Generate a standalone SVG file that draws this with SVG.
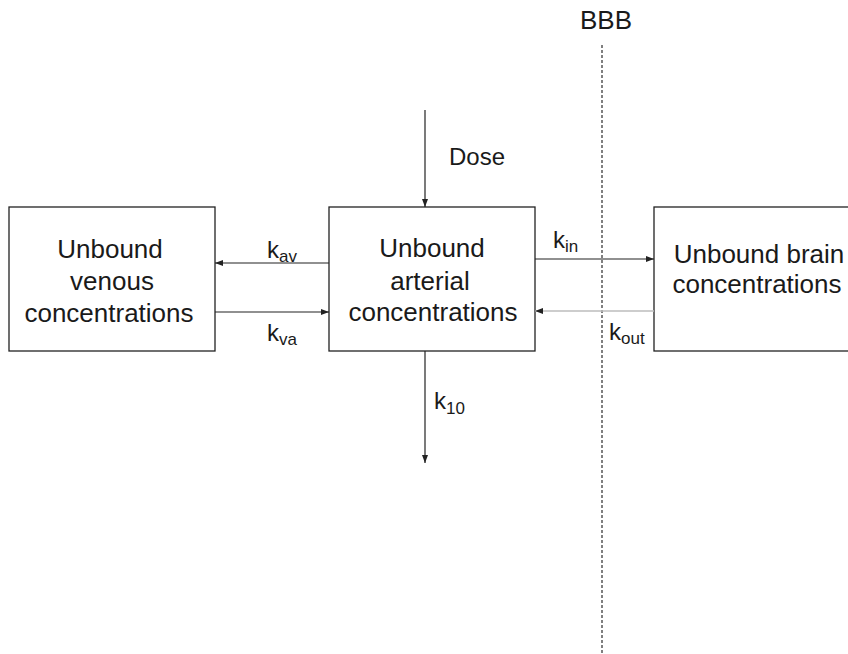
<svg xmlns="http://www.w3.org/2000/svg" width="848" height="654" viewBox="0 0 848 654">
<defs>
<style>
.box{fill:#fff;stroke:#222;stroke-width:1.3}
.t{font-family:"Liberation Sans",Arial,sans-serif;font-size:26px;fill:#1a1a1a;text-anchor:middle}
.l{font-family:"Liberation Sans",Arial,sans-serif;font-size:24px;fill:#1a1a1a}
.s{font-size:17px}
.c{stroke:#222;stroke-width:1.2;fill:none;marker-end:url(#ah)}
.g{stroke:#bdbdbd;stroke-width:1.6;fill:none;marker-end:url(#ah)}
.bbb{stroke:#555;stroke-width:1.5;stroke-dasharray:3 2;fill:none}
</style>
<marker id="ah" markerUnits="userSpaceOnUse" markerWidth="9" markerHeight="7" refX="8" refY="3.5" orient="auto">
<path d="M0,0.5 L8,3.5 L0,6.5 z" fill="#222"/>
</marker>
</defs>
<rect width="848" height="654" fill="#fff"/>
<g id="barrier">
<line class="bbb" x1="602" y1="45" x2="602" y2="654"/>
<text class="t" x="606" y="29">BBB</text>
</g>
<g id="venous">
<rect class="box" x="9" y="207" width="206" height="144"/>
<text class="t" x="110" y="258">Unbound</text>
<text class="t" x="112" y="290">venous</text>
<text class="t" x="109" y="322">concentrations</text>
</g>
<g id="arterial">
<rect class="box" x="329" y="207" width="206" height="144"/>
<text class="t" x="432" y="257">Unbound</text>
<text class="t" x="430" y="290">arterial</text>
<text class="t" x="433" y="321">concentrations</text>
</g>
<g id="brain">
<rect class="box" x="654" y="207" width="206" height="144"/>
<text class="t" x="759" y="263">Unbound brain</text>
<text class="t" x="757" y="293">concentrations</text>
</g>
<g id="connectors">
<line class="c" x1="425" y1="110" x2="425" y2="207"/>
<line class="c" x1="329" y1="263" x2="215" y2="263"/>
<line class="c" x1="215" y1="312" x2="329" y2="312"/>
<line class="c" x1="535" y1="259" x2="654" y2="259"/>
<line class="g" x1="654" y1="311" x2="535" y2="311"/>
<line class="c" x1="425" y1="351" x2="425" y2="463"/>
<text class="l" x="449" y="165">Dose</text>
<text class="l" x="267" y="258">k<tspan class="s" dy="4">av</tspan></text>
<text class="l" x="267" y="341">k<tspan class="s" dy="4">va</tspan></text>
<text class="l" x="553" y="248">k<tspan class="s" dy="4">in</tspan></text>
<text class="l" x="609" y="340">k<tspan class="s" dy="4">out</tspan></text>
<text class="l" x="434" y="409">k<tspan class="s" dy="5">10</tspan></text>
</g>
</svg>
